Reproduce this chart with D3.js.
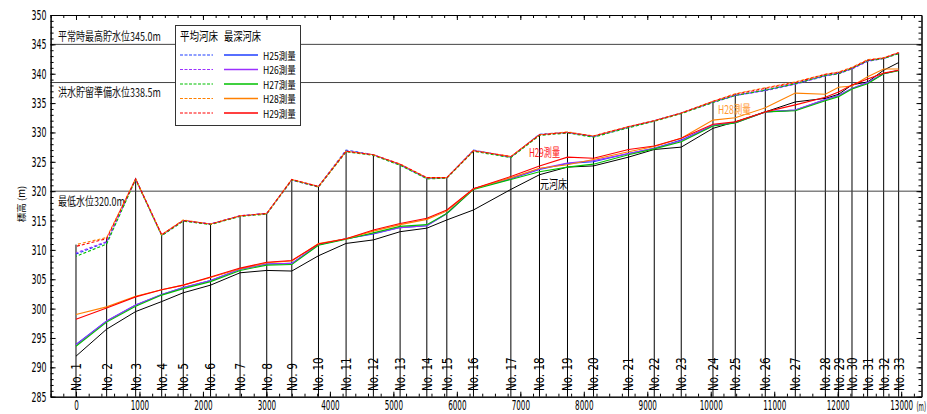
<!DOCTYPE html>
<html><head><meta charset="utf-8">
<script src="https://cdn.jsdelivr.net/npm/d3@7"></script>
<style>
html,body{margin:0;padding:0;background:#fff;}
svg{display:block;}
</style>
</head><body>
<svg id="chart" width="927" height="414"></svg>
<script>
const stations = ["No. 1","No. 2","No. 3","No. 4","No. 5","No. 6","No. 7","No. 8","No. 9","No. 10","No. 11","No. 12","No. 13","No. 14","No. 15","No. 16","No. 17","No. 18","No. 19","No. 20","No. 21","No. 22","No. 23","No. 24","No. 25","No. 26","No. 27","No. 28","No. 29","No. 30","No. 31","No. 32","No. 33"];
const distance = [0,483,940,1350,1690,2120,2585,3005,3400,3820,4255,4685,5106,5527,5842,6262,6851,7302,7743,8153,8705,9110,9535,10035,10386,10859,11332,11805,12014,12225,12471,12724,12960];

// 平均河床 (average bed, dashed)
const avgH25 = [309.3,311.3,322.1,312.5,315.0,314.4,315.8,316.2,321.9,320.8,327.0,326.2,324.5,322.2,322.3,327.0,325.8,329.7,330.0,329.3,330.9,332.0,333.3,335.2,336.3,337.2,338.3,339.7,340.1,340.9,342.2,342.6,343.5];
const avgH26 = [309.5,311.4,322.0,312.5,315.0,314.4,315.8,316.2,321.9,320.7,326.8,326.2,324.5,322.2,322.3,326.9,325.8,329.6,330.0,329.3,330.9,332.0,333.3,335.1,336.3,337.1,338.2,339.6,340.0,340.8,342.1,342.6,343.5];
const avgH27 = [308.9,311.0,322.0,312.4,314.9,314.3,315.7,316.1,321.9,320.7,326.7,326.1,324.4,322.1,322.2,326.8,325.7,329.5,329.9,329.2,330.8,331.9,333.2,335.1,336.3,337.2,338.3,339.7,340.0,340.9,342.2,342.6,343.4];
const avgH28 = [310.9,312.1,322.1,312.6,315.1,314.4,315.8,316.2,322.0,320.8,326.8,326.2,324.6,322.3,322.3,326.9,325.9,329.6,330.1,329.4,331.0,332.0,333.3,335.3,336.6,337.6,338.6,339.9,340.3,341.1,342.4,342.7,343.6];
const avgH29 = [310.6,311.9,322.1,312.6,315.0,314.4,315.8,316.2,322.0,320.8,326.8,326.2,324.6,322.3,322.3,326.9,325.9,329.6,330.0,329.4,331.0,332.0,333.3,335.3,336.5,337.5,338.5,339.9,340.2,341.0,342.3,342.7,343.6];

// 最深河床 (deepest bed, solid)
const deepH25 = [293.9,297.9,300.6,302.4,303.6,304.8,306.7,307.6,307.7,310.9,311.9,312.7,313.8,314.1,316.2,320.4,322.1,323.7,324.7,325.0,326.4,327.3,328.7,331.2,331.7,333.5,333.8,335.6,336.3,337.5,338.5,340.0,340.6];
const deepH26 = [293.8,297.9,300.6,302.4,303.6,304.8,306.7,307.6,307.7,310.9,311.9,312.8,313.8,314.1,316.2,320.4,322.2,323.8,324.8,325.2,326.4,327.3,328.6,331.2,331.6,333.5,333.8,335.6,336.3,337.5,338.5,340.0,340.6];
const deepH27 = [293.6,297.7,300.4,302.3,303.4,304.6,306.5,307.4,307.5,310.8,311.8,312.9,314.0,314.3,316.2,320.3,322.0,323.3,324.1,324.6,326.2,327.2,328.4,331.1,331.6,333.5,333.7,335.4,336.1,337.4,338.3,340.0,340.5];
const deepH28 = [299.0,300.3,302.1,303.2,304.0,305.3,306.8,307.8,308.1,311.1,311.9,313.2,314.3,315.2,316.6,320.4,322.3,323.9,324.5,325.4,326.7,327.6,329.0,332.1,332.5,334.2,336.7,336.5,337.7,337.9,339.5,340.8,340.8];
const deepH29 = [298.2,300.1,302.0,303.2,304.0,305.4,306.9,307.9,308.2,311.0,311.9,313.4,314.5,315.4,316.8,320.4,322.5,324.3,325.8,325.6,327.1,327.7,329.0,331.4,331.8,333.5,334.7,336.0,336.9,338.1,339.1,340.1,340.6];
// 元河床 (original bed)
const origBed = [291.9,296.5,299.5,301.2,302.7,304.0,306.1,306.5,306.4,309.0,311.1,311.7,313.1,313.7,315.1,316.8,320.3,322.8,324.1,324.3,325.8,327.1,327.5,330.7,331.8,333.5,335.2,335.8,336.5,338.1,338.6,340.6,341.9];

const seriesNames = ["H25測量","H26測量","H27測量","H28測量","H29測量"];
const seriesColors = ["#1f3fff","#9b30ff","#00c000","#ff8000","#ff0000"];
const avgSeries = [avgH25,avgH26,avgH27,avgH28,avgH29];
const deepSeries = [deepH25,deepH26,deepH27,deepH28,deepH29];

const waterLevels = [345.0, 338.5, 320.0];
const waterLabels = ["平常時最高貯水位345.0m","洪水貯留準備水位338.5m","最低水位320.0m"];

const xTicks = d3.range(0, 13001, 1000);
const yTicks = d3.range(285, 351, 5);

const svg = d3.select("#chart");
const L = 50.6, R = 921.5, T = 15, B = 396.7;
const x = d3.scaleLinear().domain([-400, 13320]).range([L, R]);
const y = d3.scaleLinear().domain([285, 350]).range([B, T]);
const numFont = "'Liberation Sans Narrow','DejaVu Sans Condensed',sans-serif";
const jpFont = "'Noto Sans CJK JP','Noto Sans CJK SC',sans-serif";

// condense a text horizontally to width w (real geometry via transform)
function fit(sel, w){
  sel.each(function(){
    const t = d3.select(this);
    const n = this.getComputedTextLength();
    if (!n) return;
    const sx = w / n;
    const base = t.attr("transform") || "";
    const tx = +(t.attr("x") || 0), ty = +(t.attr("y") || 0);
    t.attr("x", 0).attr("y", 0)
     .attr("transform", `${base} translate(${tx},${ty}) scale(${sx},1)`);
  });
}

// station vertical lines
const stMax = distance.map((d,i)=>d3.max(avgSeries, s=>s[i]));
svg.append("g").selectAll("line").data(distance).join("line")
  .attr("x1", d=>x(d)).attr("x2", d=>x(d))
  .attr("y1", y(285)).attr("y2", (d,i)=>y(stMax[i]))
  .attr("stroke","#000").attr("stroke-width",1);

// water level lines
svg.append("g").selectAll("line").data(waterLevels).join("line")
  .attr("x1", L).attr("x2", R).attr("y1", d=>y(d)).attr("y2", d=>y(d))
  .attr("stroke","#444").attr("stroke-width",1);

const wlPos = [{dx:58,dy:-3,w:103},{dx:58,dy:14.5,w:103},{dx:58,dy:14.5,w:67}];
svg.append("g").selectAll("text").data(waterLevels).join("text")
  .attr("x", (d,i)=>wlPos[i].dx).attr("y", (d,i)=>y(d)+wlPos[i].dy)
  .attr("font-family", jpFont).attr("font-size", 12).attr("fill","#111")
  .text((d,i)=>waterLabels[i])
  .each(function(d,i){ fit(d3.select(this), wlPos[i].w); });

// lines
const line = d3.line().x((d,i)=>x(distance[i])).y(d=>y(d));
svg.append("path").datum(origBed).attr("d", line).attr("fill","none").attr("stroke","#000").attr("stroke-width",1);
deepSeries.forEach((s,k)=>{
  svg.append("path").datum(s).attr("d", line).attr("fill","none")
    .attr("stroke", seriesColors[k]).attr("stroke-width",1.1);
});
avgSeries.forEach((s,k)=>{
  svg.append("path").datum(s).attr("d", line).attr("fill","none")
    .attr("stroke", seriesColors[k]).attr("stroke-width",1.1)
    .attr("stroke-dasharray","3,2").attr("stroke-dashoffset", k*1);
});

// station labels
svg.append("g").selectAll("text").data(distance).join("text")
  .attr("transform", d=>`translate(${x(d)},391) rotate(-90)`)
  .attr("dy","0.35em").attr("font-family", numFont).attr("font-size", 14)
  .attr("fill","#000").text((d,i)=>stations[i])
  .each(function(d,i){ fit(d3.select(this), stations[i].length*5.6); });

// axes
const yAxis = svg.append("g").attr("transform",`translate(${L},0)`)
  .call(d3.axisLeft(y).tickValues(yTicks).tickSize(-5).tickSizeOuter(0).tickPadding(4));
yAxis.selectAll("text").attr("font-family", numFont).attr("font-size",14).attr("fill","#000")
  .attr("x", -19).attr("text-anchor","start")
  .each(function(d){ fit(d3.select(this), 15); });
svg.append("g").attr("transform",`translate(${L},0)`)
  .call(d3.axisLeft(y).tickValues(d3.range(285,351,1)).tickSize(-3).tickFormat("").tickSizeOuter(0));
svg.append("g").attr("transform",`translate(${R},0)`)
  .call(d3.axisRight(y).tickValues(yTicks).tickSize(-5).tickFormat("").tickSizeOuter(0));
svg.append("g").attr("transform",`translate(${R},0)`)
  .call(d3.axisRight(y).tickValues(d3.range(285,351,1)).tickSize(-3).tickFormat("").tickSizeOuter(0));

const xAxis = svg.append("g").attr("transform",`translate(0,${B})`)
  .call(d3.axisBottom(x).tickValues(xTicks).tickFormat(d3.format("d")).tickSize(-5).tickSizeOuter(0).tickPadding(5));
xAxis.selectAll("text").attr("font-family", numFont).attr("font-size",14).attr("fill","#000")
  .attr("dy", null).attr("y", 13.5)
  .each(function(d){ fit(d3.select(this), String(d).length*4.6); });
svg.append("g").attr("transform",`translate(0,${B})`)
  .call(d3.axisBottom(x).tickValues(d3.range(-400,13300,200)).tickSize(-3).tickFormat("").tickSizeOuter(0));
svg.append("g").attr("transform",`translate(0,${T})`)
  .call(d3.axisTop(x).tickValues(xTicks).tickSize(-5).tickFormat("").tickSizeOuter(0));
svg.append("g").attr("transform",`translate(0,${T})`)
  .call(d3.axisTop(x).tickValues(d3.range(-400,13300,200)).tickSize(-3).tickFormat("").tickSizeOuter(0));
svg.selectAll(".domain").attr("stroke","#000");

svg.append("text").attr("x", 916.5).attr("y", 410.5)
  .attr("font-family", numFont).attr("font-size",12).text("(m)").call(s=>fit(s,9.5));
svg.append("text").attr("transform","translate(25,204) rotate(-90)")
  .attr("text-anchor","middle").attr("font-family", jpFont).attr("font-size",9.5).text("標高 (m)");

// annotations
const ann = [{t:"H29測量",x:529,y:157,w:31,c:"#ff2020"},{t:"元河床",x:540,y:189,w:27,c:"#000"},{t:"H28測量",x:718,y:114,w:33,c:"#ff9933"}];
svg.append("g").selectAll("text").data(ann).join("text")
  .attr("x",d=>d.x).attr("y",d=>d.y).attr("fill",d=>d.c)
  .attr("font-family", jpFont).attr("font-size",12).text(d=>d.t)
  .each(function(d){ fit(d3.select(this), d.w); });

// legend
const lg = svg.append("g");
lg.append("rect").attr("x",175.5).attr("y",25.5).attr("width",125).attr("height",100)
  .attr("fill","#fff").attr("stroke","#333").attr("stroke-width",1);
lg.append("text").attr("x",180).attr("y",41).attr("font-family",jpFont).attr("font-size",12).text("平均河床")
  .call(s=>fit(s,38));
lg.append("text").attr("x",224).attr("y",41).attr("font-family",jpFont).attr("font-size",12).text("最深河床")
  .call(s=>fit(s,37));
const rowY = [55, 69.5, 84, 98.5, 113];
seriesNames.forEach((n,k)=>{
  lg.append("line").attr("x1",180).attr("x2",213).attr("y1",rowY[k]).attr("y2",rowY[k])
    .attr("stroke",seriesColors[k]).attr("stroke-dasharray","3,1.5").attr("stroke-width",1.1);
  lg.append("line").attr("x1",224).attr("x2",258).attr("y1",rowY[k]).attr("y2",rowY[k])
    .attr("stroke",seriesColors[k]).attr("stroke-width",1.4);
  lg.append("text").attr("x",263).attr("y",rowY[k]+4.5).attr("font-family",jpFont).attr("font-size",10)
    .text(n).call(s=>fit(s,33));
});
</script>
</body></html>
